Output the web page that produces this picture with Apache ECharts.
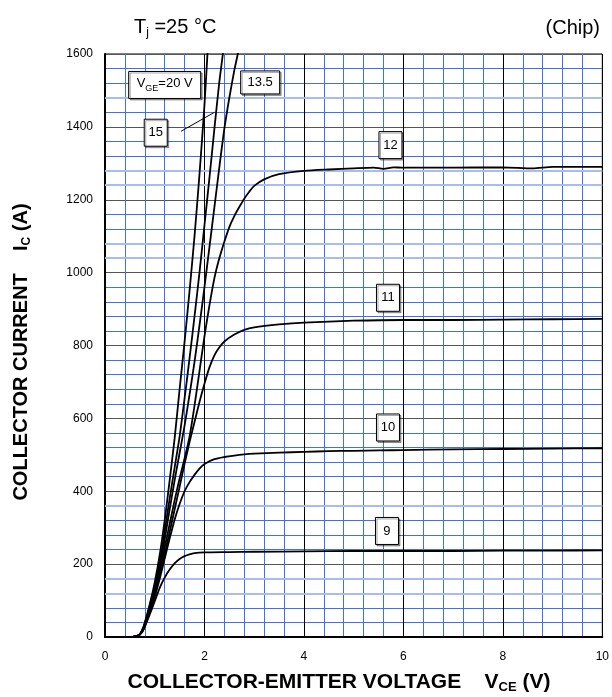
<!DOCTYPE html>
<html><head><meta charset="utf-8">
<script src="https://cdn.jsdelivr.net/npm/echarts/dist/echarts.min.js"></script>
<style>html,body{margin:0;padding:0;background:#fff;}#c{width:612px;height:697px;}</style>
</head><body><div id="c"></div>
<script>
// ---- data (V_CE in V, I_C in A) ----
const xRange = [0, 10];
const yRange = [0, 1600];
const xMajor = 2, yMajor = 200, xMinor = 0.4, yMinor = 40;
const vge20 = [[0,0],[0.55,0],[0.65,3],[0.7,8],[0.75,20],[0.8,40],[0.9,90],[1.0,150],[1.1,225],[1.2,320],[1.3,430],[1.4,545],[1.5,680],[1.6,810],[1.7,950],[1.8,1100],[1.9,1270],[2.0,1460],[2.06,1600],[2.1,1700]];
const vge15 = [[0,0],[0.55,0],[0.65,3],[0.7,7],[0.75,18],[0.8,37],[0.9,85],[1.0,140],[1.1,205],[1.2,290],[1.3,380],[1.4,465],[1.5,550],[1.6,655],[1.7,765],[1.8,880],[1.9,1000],[2.0,1130],[2.1,1260],[2.2,1395],[2.3,1525],[2.37,1600],[2.45,1700]];
const vge13_5 = [[0,0],[0.55,0],[0.65,3],[0.7,7],[0.75,17],[0.8,35],[0.9,80],[1.0,132],[1.1,192],[1.2,268],[1.3,350],[1.4,430],[1.5,505],[1.6,580],[1.7,665],[1.8,755],[1.9,855],[2.0,960],[2.1,1070],[2.2,1180],[2.3,1290],[2.4,1395],[2.5,1480],[2.6,1555],[2.67,1600],[2.75,1660]];
const vge12 = [[0,0],[0.55,0],[0.65,3],[0.7,7],[0.75,16],[0.8,33],[0.9,76],[1.0,125],[1.1,180],[1.2,245],[1.3,310],[1.4,375],[1.5,435],[1.6,490],[1.7,550],[1.8,635],[1.9,730],[2.0,825],[2.1,910],[2.2,985],[2.3,1040],[2.4,1085],[2.5,1125],[2.6,1155],[2.7,1180],[2.8,1203],[2.9,1222],[3.0,1238],[3.2,1256],[3.5,1270],[4,1279],[4.5,1283],[5,1286],[5.4,1288],[5.6,1285],[5.8,1289],[6,1288],[7,1288],[8,1289],[8.6,1286],[9,1290],[10,1290]];
const vge11 = [[0,0],[0.55,0],[0.65,3],[0.7,7],[0.75,16],[0.8,32],[0.9,72],[1.0,118],[1.1,170],[1.2,228],[1.3,288],[1.4,350],[1.5,412],[1.6,475],[1.7,535],[1.8,590],[1.9,645],[2.0,695],[2.1,740],[2.2,773],[2.3,795],[2.4,811],[2.6,830],[2.8,843],[3.0,850],[3.5,858],[4,863],[5,868],[6,870],[7,870],[8,871],[9,872],[10,873]];
const vge10 = [[0,0],[0.55,0],[0.65,3],[0.7,7],[0.75,15],[0.8,30],[0.9,68],[1.0,110],[1.1,160],[1.2,215],[1.3,270],[1.4,322],[1.5,365],[1.6,400],[1.7,425],[1.8,445],[1.9,462],[2.0,475],[2.2,488],[2.4,494],[2.6,498],[2.8,501],[3,503],[3.5,506],[4,508],[4.5,510],[5,511],[5.5,512],[6,513],[7,515],[8,516],[9,517],[10,518]];
const vge9 = [[0,0],[0.55,0],[0.65,3],[0.7,7],[0.75,14],[0.8,28],[0.9,62],[1.0,98],[1.1,135],[1.2,163],[1.3,185],[1.4,202],[1.5,214],[1.6,222],[1.7,227],[1.8,230],[2.0,232],[2.5,233],[3,234],[4,235],[5,236],[6,236],[7,236],[8,237],[9,237],[10,238]];
const curveNames = ['20','15','13.5','12','11','10','9'];
const curves = [vge20, vge15, vge13_5, vge12, vge11, vge10, vge9];
// label boxes: [text, V, I]
const boxLabels = [['12',5.74,1350],['11',5.69,931],['10',5.69,575],['9',5.67,291],['13.5',3.12,1522],['15',1.02,1384]];
const vgeLabel = [1.2, 1515];
const pointer15 = [[1.53,1388],[2.2,1440]];
const lightLines = [120,160,360,1040,1080,1240,1280,1480];

const chart = echarts.init(document.getElementById('c'), null, {renderer:'canvas'});
const FONT = 'Liberation Sans, Arial, sans-serif';
const BLUE = '#3f6ff0';
const series = curves.map((d,i)=>({
  name: curveNames[i], type:'line', data:d, showSymbol:false, smooth:0.25,
  xAxisIndex:1, yAxisIndex:1,
  lineStyle:{color:'#000', width:1.8}, itemStyle:{color:'#000'}, z:5, silent:true, animation:false
}));
series.push({type:'line', data:[], z:1, silent:true, animation:false, xAxisIndex:1, yAxisIndex:1,
  markLine:{silent:true, symbol:'none', label:{show:false}, animation:false,
    lineStyle:{color:'#a9bcf2', width:2, type:'solid'},
    data: lightLines.map(v=>({yAxis:v}))}});
const minorAxis = (rng, iv, pos)=>({type:'value', min:rng[0], max:rng[1], interval:iv, position:pos,
  axisLine:{show:false}, axisTick:{show:false}, axisLabel:{show:false},
  splitLine:{show:true, lineStyle:{color:BLUE, width:1}}});
chart.setOption({
  animation:false,
  backgroundColor:'#fff',
  grid:{left:105, right:7, top:54, bottom:60, show:true, borderColor:'#000', borderWidth:1, containLabel:false},
  xAxis:[minorAxis(xRange, xMinor, 'bottom'),
   {type:'value', min:xRange[0], max:xRange[1], interval:xMajor, position:'bottom',
    axisLine:{show:true, onZero:false, lineStyle:{color:'#000', width:2}},
    axisTick:{show:false},
    axisLabel:{color:'#000', fontSize:12, fontFamily:FONT, margin:14, formatter:v=>String(v)},
    splitLine:{show:true, lineStyle:{color:'#000', width:1}}
   }],
  yAxis:[minorAxis(yRange, yMinor, 'left'),
   {type:'value', min:yRange[0], max:yRange[1], interval:yMajor, position:'left',
    axisLine:{show:true, onZero:false, lineStyle:{color:'#000', width:2}},
    axisTick:{show:false},
    axisLabel:{color:'#000', fontSize:12, fontFamily:FONT, margin:12, formatter:v=>String(v)},
    splitLine:{show:true, lineStyle:{color:'#555', width:1.2}}
   }],
  series: series
});

const px = (v,i)=>chart.convertToPixel({xAxisIndex:1, yAxisIndex:1}, [v,i]);
const g = [];
const boxStyle = {fill:'#fff', stroke:'#000', lineWidth:1, shadowColor:'rgba(0,0,0,0.35)', shadowOffsetX:1.5, shadowOffsetY:1.5, shadowBlur:0};
boxLabels.forEach(([t,v,i])=>{
  const p = px(v,i);
  const w = t.length>2 ? 39 : 23, h = t.length>2 ? 23 : 27;
  g.push({type:'rect', shape:{x:p[0]-w/2, y:p[1]-h/2, width:w, height:h}, style:boxStyle, z:20});
  g.push({type:'text', x:p[0], y:p[1], style:{text:t, fill:'#000', font:'13px '+FONT, align:'center', verticalAlign:'middle'}, z:21});
});
{
  const p = px(vgeLabel[0], vgeLabel[1]);
  g.push({type:'rect', shape:{x:p[0]-36, y:p[1]-13.5, width:72, height:27}, style:boxStyle, z:20});
  g.push({type:'text', x:p[0], y:p[1], style:{text:'{a|V}{s|GE}{a|=20 V}', align:'center', verticalAlign:'middle',
    rich:{a:{fontSize:13, fontFamily:FONT, fill:'#000', lineHeight:16, verticalAlign:'top'}, s:{fontSize:9, fontFamily:FONT, fill:'#000', lineHeight:10, verticalAlign:'bottom'}}}, z:21});
  const a = px(pointer15[0][0], pointer15[0][1]), b = px(pointer15[1][0], pointer15[1][1]);
  g.push({type:'line', shape:{x1:a[0], y1:a[1], x2:b[0], y2:b[1]}, style:{stroke:'#000', lineWidth:1}, z:19});
}
// titles
g.push({type:'text', x:134, y:28, style:{text:'{a|T}{s|j}{a| =25 °C}', verticalAlign:'middle',
  rich:{a:{fontSize:20, fontFamily:FONT, fill:'#000', lineHeight:22, verticalAlign:'top'}, s:{fontSize:12, fontFamily:FONT, fill:'#000', lineHeight:12, verticalAlign:'bottom'}}}, z:30});
g.push({type:'text', x:600, y:28, style:{text:'(Chip)', font:'20px '+FONT, fill:'#000', align:'right', verticalAlign:'middle'}, z:30});
g.push({type:'text', x:339, y:683, style:{text:'{a|COLLECTOR-EMITTER VOLTAGE    V}{s|CE}{a| (V)}', align:'center', verticalAlign:'middle',
  rich:{a:{fontSize:21, fontWeight:'bold', fontFamily:FONT, fill:'#000', lineHeight:22, verticalAlign:'top'}, s:{fontSize:13, fontWeight:'bold', fontFamily:FONT, fill:'#000', lineHeight:14, verticalAlign:'bottom'}}}, z:30});
g.push({type:'text', x:22, y:352, rotation:Math.PI/2, style:{text:'{a|COLLECTOR CURRENT    I}{s|C}{a| (A)}', align:'center', verticalAlign:'middle',
  rich:{a:{fontSize:20, fontWeight:'bold', fontFamily:FONT, fill:'#000', lineHeight:22, verticalAlign:'top'}, s:{fontSize:12, fontWeight:'bold', fontFamily:FONT, fill:'#000', lineHeight:13, verticalAlign:'bottom'}}}, z:30});
chart.setOption({graphic:g});
</script></body></html>
